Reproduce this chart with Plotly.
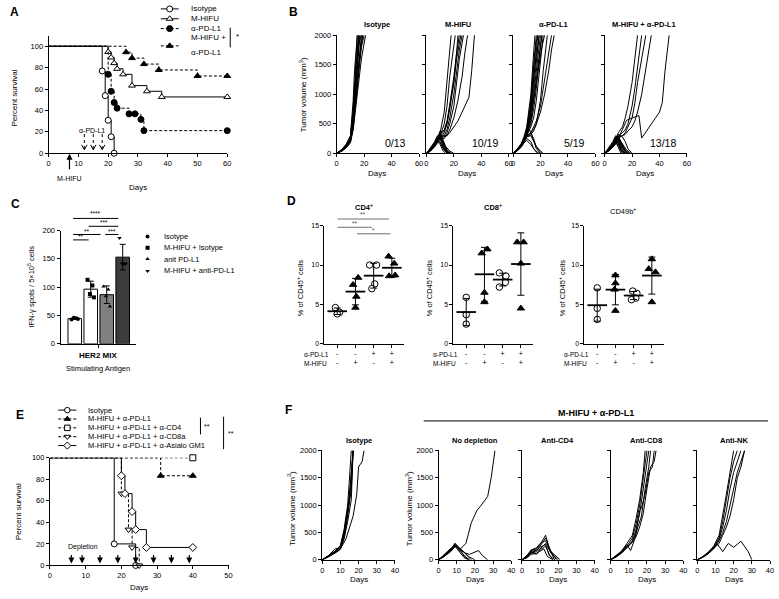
import plotly.graph_objects as go
import numpy as np

W, H = 779, 599
FONT = "Liberation Sans, Arial, sans-serif"

# ===================== DATA =====================
# Panel A: Kaplan-Meier (day of event, % survival)
A_ISO_DAYS = [0, 18, 19, 20, 21, 22]
A_ISO_SURV = [100, 76.9, 53.8, 30.8, 15.4, 0]
A_HIFU_DAYS = [0, 20, 21, 22, 23, 25, 28, 33, 38, 60]
A_HIFU_SURV = [100, 94.7, 89.5, 84.2, 78.9, 73.7, 63.2, 57.9, 52.6, 52.6]
A_PDL1_DAYS = [0, 20, 21, 22, 23, 27, 29, 31, 32, 60]
A_PDL1_SURV = [100, 73.7, 57.9, 47.4, 42.1, 36.8, 36.8, 31.6, 21.1, 21.1]
A_COMBO_DAYS = [0, 26, 28, 32, 37, 50, 60]
A_COMBO_SURV = [100, 94.4, 88.9, 83.3, 77.8, 72.2, 72.2]
A_PDL1_INJ_DAYS = [12, 15, 18]
A_HIFU_DAY = 7
A_XTICKS = [0, 10, 20, 30, 40, 50, 60]
A_YTICKS = [0, 20, 40, 60, 80, 100]

# Panel B: individual tumour growth curves (days, volume mm3)
B_TITLES = ["Isotype", "M-HIFU", "α-PD-L1", "M-HIFU + α-PD-L1"]
B_FRACTIONS = ["0/13", "10/19", "5/19", "13/18"]
B_ISO = [
    ([0, 4, 7, 10, 12, 14, 16], [0, 60, 130, 250, 600, 1300, 2000]),
    ([0, 4, 7, 10, 12, 14, 16, 18], [0, 50, 110, 220, 500, 1000, 1600, 2000]),
    ([0, 4, 7, 10, 12, 14, 15], [0, 70, 150, 290, 750, 1500, 2000]),
    ([0, 4, 7, 10, 12, 14, 16, 17], [0, 55, 120, 230, 550, 1150, 1750, 2000]),
    ([0, 4, 7, 10, 12, 14, 16, 18, 20], [0, 45, 100, 200, 420, 850, 1350, 1800, 2000]),
    ([0, 4, 7, 10, 12, 14, 16], [0, 65, 140, 270, 680, 1400, 2000]),
    ([0, 4, 7, 10, 12, 14, 16, 19], [0, 50, 115, 210, 480, 950, 1500, 2000]),
    ([0, 4, 7, 10, 12, 14, 16, 18], [0, 60, 125, 240, 560, 1300, 1850, 2000]),
    ([0, 4, 7, 10, 12, 13, 15], [0, 75, 160, 300, 900, 1400, 2000]),
    ([0, 4, 7, 10, 12, 14, 16, 17], [0, 55, 120, 230, 640, 1250, 1900, 2000]),
    ([0, 4, 7, 10, 12, 14, 16, 18, 19], [0, 50, 105, 200, 460, 1000, 1450, 1900, 2000]),
    ([0, 4, 7, 10, 12, 14, 16], [0, 60, 135, 250, 700, 1450, 2000]),
    ([0, 4, 7, 10, 12, 14, 16, 18, 21], [0, 40, 95, 180, 400, 800, 1300, 1600, 2000]),
]
B_HIFU = [
    ([0, 3, 6, 8, 10, 13, 15, 17], [0, 60, 150, 250, 300, 150, 50, 0]),
    ([0, 3, 6, 8, 10, 13, 15], [0, 80, 180, 280, 250, 80, 0]),
    ([0, 3, 6, 8, 10, 12, 14, 17, 20], [0, 50, 120, 200, 350, 250, 120, 40, 0]),
    ([0, 3, 6, 8, 10, 13, 16], [0, 70, 160, 230, 200, 60, 0]),
    ([0, 3, 6, 8, 10, 12, 15, 18], [0, 40, 130, 260, 380, 200, 60, 0]),
    ([0, 3, 6, 8, 10, 13, 15], [0, 90, 200, 300, 270, 100, 0]),
    ([0, 3, 6, 8, 10, 13, 17], [0, 60, 140, 220, 180, 50, 0]),
    ([0, 3, 6, 8, 10, 12, 14, 16], [0, 50, 110, 180, 250, 150, 50, 0]),
    ([0, 3, 6, 8, 10, 13, 15, 18], [0, 70, 170, 260, 300, 120, 30, 0]),
    ([0, 3, 6, 8, 10, 12, 14], [0, 80, 150, 200, 150, 50, 0]),
    ([0, 3, 6, 8, 10, 13, 15, 17, 18], [0, 60, 150, 250, 350, 700, 1200, 1700, 2000]),
    ([0, 3, 6, 8, 10, 13, 15, 17, 19, 21], [0, 50, 130, 220, 300, 500, 800, 1300, 1700, 2000]),
    ([0, 3, 6, 8, 10, 13, 15, 17, 20, 22, 24], [0, 40, 120, 200, 250, 350, 500, 800, 1300, 1700, 2000]),
    ([0, 3, 6, 8, 10, 13, 15, 17, 20, 22, 24, 26], [0, 50, 140, 230, 280, 300, 400, 600, 1000, 1400, 1750, 2000]),
    ([0, 3, 6, 8, 10, 13, 15, 17, 20, 22, 24, 27], [0, 60, 150, 240, 260, 250, 350, 500, 800, 1200, 1600, 2000]),
    ([0, 3, 6, 8, 10, 13, 15, 17, 20, 23, 26, 28, 30], [0, 45, 120, 200, 280, 300, 300, 400, 600, 900, 1300, 1700, 2000]),
    ([0, 3, 6, 8, 10, 13, 15, 17, 20, 23, 26, 29, 31, 33, 35], [0, 50, 130, 210, 260, 280, 300, 350, 450, 550, 700, 850, 950, 1400, 2000]),
    ([0, 3, 6, 8, 10, 13, 15, 17, 20, 22, 25], [0, 70, 170, 280, 330, 400, 550, 800, 1200, 1600, 2000]),
    ([0, 3, 6, 8, 10, 13, 15, 17, 20, 22, 23], [0, 55, 140, 220, 300, 380, 500, 750, 1200, 1700, 2000]),
]
B_PDL1 = [
    ([0, 3, 6, 8, 10, 13, 15, 17, 20], [0, 60, 150, 230, 300, 350, 200, 80, 0]),
    ([0, 3, 6, 8, 10, 13, 15, 18], [0, 50, 120, 200, 250, 200, 80, 0]),
    ([0, 3, 6, 8, 10, 12, 15, 17, 21], [0, 70, 160, 260, 320, 400, 250, 100, 0]),
    ([0, 3, 6, 8, 10, 13, 16, 19], [0, 40, 110, 180, 220, 150, 50, 0]),
    ([0, 3, 6, 8, 10, 13, 15, 17, 20, 22], [0, 60, 140, 220, 280, 300, 200, 120, 40, 0]),
    ([0, 3, 6, 8, 10, 13, 15, 17], [0, 60, 150, 250, 400, 900, 1500, 2000]),
    ([0, 3, 6, 8, 10, 13, 15, 17, 18], [0, 50, 130, 220, 350, 750, 1250, 1800, 2000]),
    ([0, 3, 6, 8, 10, 13, 15, 17, 19], [0, 55, 140, 240, 380, 800, 1300, 1700, 2000]),
    ([0, 3, 6, 8, 10, 13, 15, 16], [0, 70, 170, 280, 450, 1000, 1700, 2000]),
    ([0, 3, 6, 8, 10, 13, 15, 17, 19], [0, 45, 120, 200, 320, 700, 1100, 1600, 2000]),
    ([0, 3, 6, 8, 10, 13, 15, 17, 18], [0, 60, 150, 260, 420, 850, 1400, 1900, 2000]),
    ([0, 3, 6, 8, 10, 13, 15, 17, 19, 20], [0, 50, 120, 210, 330, 650, 1000, 1400, 1800, 2000]),
    ([0, 3, 6, 8, 10, 13, 15, 17, 19, 21], [0, 40, 110, 190, 300, 550, 900, 1300, 1700, 2000]),
    ([0, 3, 6, 8, 10, 13, 15, 17, 19, 21], [0, 55, 130, 230, 350, 500, 750, 1100, 1600, 2000]),
    ([0, 3, 6, 8, 10, 13, 15, 17, 20, 22], [0, 45, 115, 200, 300, 450, 600, 900, 1500, 2000]),
    ([0, 3, 6, 8, 10, 13, 15, 17, 20, 22, 25], [0, 50, 120, 200, 280, 350, 400, 500, 900, 1400, 2000]),
    ([0, 3, 6, 8, 10, 13, 15, 17, 20, 22, 24, 26, 28], [0, 60, 140, 230, 300, 350, 450, 550, 800, 1100, 1400, 1700, 2000]),
    ([0, 3, 6, 8, 10, 13, 15, 17, 20, 23, 26, 28, 30], [0, 50, 130, 210, 280, 320, 380, 500, 700, 1000, 1400, 1750, 2000]),
    ([0, 3, 6, 8, 10, 13, 15, 17, 19, 21, 23], [0, 65, 150, 250, 370, 600, 900, 1200, 1500, 1800, 2000]),
]
B_COMBO = [
    ([0, 3, 6, 8, 10, 12, 14], [0, 60, 150, 250, 200, 80, 0]),
    ([0, 3, 6, 8, 10, 13, 15], [0, 80, 180, 280, 220, 60, 0]),
    ([0, 3, 6, 8, 10, 12, 15, 17], [0, 50, 130, 200, 260, 150, 40, 0]),
    ([0, 3, 6, 8, 10, 13], [0, 70, 160, 230, 120, 0]),
    ([0, 3, 6, 8, 10, 12, 14, 16], [0, 40, 120, 180, 300, 180, 60, 0]),
    ([0, 3, 6, 8, 10, 13, 16], [0, 90, 200, 300, 250, 90, 0]),
    ([0, 3, 6, 8, 10, 12], [0, 60, 140, 200, 100, 0]),
    ([0, 3, 6, 8, 10, 12, 14, 17], [0, 50, 110, 170, 230, 200, 80, 0]),
    ([0, 3, 6, 8, 10, 13, 15, 18], [0, 70, 170, 260, 280, 150, 60, 0]),
    ([0, 3, 6, 8, 10, 12, 14], [0, 80, 150, 220, 160, 50, 0]),
    ([0, 3, 6, 8, 10, 13, 15, 17, 20], [0, 60, 150, 240, 320, 280, 200, 80, 0]),
    ([0, 3, 6, 8, 10, 12, 15], [0, 55, 130, 210, 190, 70, 0]),
    ([0, 3, 6, 8, 10, 13, 16, 19], [0, 45, 120, 190, 230, 160, 60, 0]),
    ([0, 3, 6, 8, 10, 13, 15, 17, 20, 22, 24], [0, 60, 150, 250, 350, 450, 600, 800, 1200, 1600, 2000]),
    ([0, 3, 6, 8, 10, 13, 15, 17, 20, 22, 24, 27], [0, 50, 140, 230, 300, 350, 400, 500, 800, 1100, 1500, 2000]),
    ([0, 3, 6, 8, 10, 13, 15, 17, 20, 22, 24, 27, 30], [0, 55, 130, 220, 280, 300, 350, 450, 600, 850, 1200, 1600, 2000]),
    ([0, 3, 6, 8, 10, 13, 15, 17, 20, 22, 24, 27, 29, 31, 34], [0, 50, 120, 200, 260, 300, 320, 380, 450, 550, 700, 1000, 1300, 1600, 2000]),
    ([0, 4, 8, 10, 13, 16, 20, 25, 27, 31, 37, 40, 42, 44, 47], [0, 60, 150, 250, 400, 560, 600, 640, 260, 400, 610, 700, 860, 1400, 2000]),
]
B_XTICKS = [0, 20, 40, 60]
VOL_TICKS = [0, 500, 1000, 1500, 2000]

# Panel C: IFN-gamma ELISpot
C_GROUPS = ["Isotype", "M-HIFU + Isotype", "anit PD-L1", "M-HIFU + anti-PD-L1"]
C_POINTS = [[43, 45, 46, 44], [113, 103, 88, 82], [101, 96, 84, 66], [187, 141, 142, 142]]
C_YTICKS = [0, 50, 100, 150, 200]

# Panel D: flow cytometry (% of CD45+ cells)
D_TITLES = ["<b>CD4<sup>+</sup></b>", "<b>CD8<sup>+</sup></b>", "CD49b<sup>+</sup>"]
D_CD4 = [[4.6, 4.0, 3.8], [8.4, 7.5, 6.0, 4.6], [10.0, 10.0, 7.6, 7.0], [11.1, 10.2, 8.6, 8.7]]
D_CD8 = [[5.9, 3.7, 2.5], [11.5, 12.0, 6.5, 5.3], [9.0, 8.6, 7.8, 7.2], [12.9, 12.9, 10.2, 4.5]]
D_CD49B = [[7.1, 4.5, 3.1], [8.7, 7.7, 6.9, 4.2], [6.7, 6.4, 5.8, 5.6], [10.75, 9.5, 9.1, 5.3]]
D_PDL1_ROW = ["-", "-", "+", "+"]
D_HIFU_ROW = ["-", "+", "-", "+"]
D_YTICKS = [0, 5, 10, 15]

# Panel E: depletion survival
E_ISO_DAYS = [0, 18, 24]
E_ISO_SURV = [100, 20, 0]
E_PDL1_DAYS = [0, 31, 40]
E_PDL1_SURV = [100, 83.3, 83.3]
E_CD4_DAYS = [0, 40]
E_CD4_SURV = [100, 100]
E_CD8_DAYS = [0, 20, 22, 23, 25]
E_CD8_SURV = [100, 66.7, 33.3, 16.7, 0]
E_NK_DAYS = [0, 20, 21, 23, 24, 27, 40]
E_NK_SURV = [100, 83.3, 66.7, 50, 33.3, 16.7, 16.7]
E_DEPLETION_DAYS = [6, 9, 14, 19, 24, 29, 34, 39]
E_XTICKS = [0, 10, 20, 30, 40, 50]
E_YTICKS = [0, 20, 40, 60, 80, 100]

# Panel F: growth curves with depletion
F_TITLES = ["Isotype", "No depletion", "Anti-CD4", "Anti-CD8", "Anti-NK"]
F_ISO = [
    ([0, 3, 7, 10, 12, 14, 15, 17], [0, 60, 150, 250, 500, 900, 1200, 2000]),
    ([0, 3, 7, 10, 12, 14, 15, 17], [0, 55, 140, 230, 450, 850, 1150, 2000]),
    ([0, 3, 7, 10, 12, 14, 16, 17], [0, 50, 130, 200, 400, 800, 1300, 2000]),
    ([0, 3, 7, 10, 12, 14, 16], [0, 65, 160, 260, 550, 1000, 2000]),
    ([0, 3, 7, 10, 12, 14, 16, 17], [0, 45, 120, 190, 380, 700, 1100, 2000]),
    ([0, 3, 7, 10, 12, 14, 16, 17], [0, 60, 200, 220, 500, 950, 1400, 2000]),
    ([0, 3, 7, 10, 13, 15, 17, 19, 20, 22, 23], [0, 50, 140, 200, 380, 600, 800, 1200, 1700, 1800, 2000]),
]
F_NODEP = [
    ([0, 3, 7, 9, 12, 15, 17], [0, 80, 200, 280, 150, 50, 0]),
    ([0, 3, 7, 9, 12, 14, 16], [0, 70, 180, 300, 180, 60, 0]),
    ([0, 3, 7, 9, 12, 15, 18], [0, 60, 170, 260, 200, 100, 0]),
    ([0, 3, 7, 9, 12, 14, 17], [0, 90, 220, 250, 120, 40, 0]),
    ([0, 3, 7, 9, 12, 15, 17, 20], [0, 60, 160, 240, 200, 120, 50, 0]),
    ([0, 3, 7, 9, 12, 15, 17, 20, 22, 24, 27], [0, 70, 190, 270, 180, 120, 100, 150, 170, 80, 0]),
    ([0, 3, 7, 9, 12, 15, 18, 21, 23, 25, 27, 29, 31], [0, 75, 200, 300, 200, 300, 680, 900, 980, 1080, 1160, 1520, 2000]),
]
F_CD4 = [
    ([0, 3, 5, 8, 10, 13, 16, 19], [0, 80, 150, 180, 250, 400, 150, 0]),
    ([0, 3, 5, 8, 10, 13, 15, 18], [0, 60, 170, 200, 280, 450, 200, 0]),
    ([0, 3, 5, 8, 10, 13, 16, 20], [0, 50, 120, 150, 200, 300, 120, 0]),
    ([0, 3, 5, 8, 10, 13, 15, 17], [0, 70, 140, 100, 180, 250, 100, 0]),
    ([0, 3, 5, 8, 10, 13, 16, 21], [0, 90, 180, 220, 300, 350, 150, 0]),
    ([0, 3, 5, 8, 10, 13, 15, 18], [0, 60, 130, 170, 230, 280, 80, 0]),
    ([0, 3, 5, 8, 10, 12, 14, 17], [0, 40, 100, 120, 160, 200, 60, 0]),
]
F_CD8 = [
    ([0, 3, 6, 9, 12, 14, 16, 18, 20], [0, 70, 150, 250, 400, 650, 1000, 1500, 2000]),
    ([0, 3, 6, 9, 12, 14, 16, 18, 20, 21], [0, 60, 130, 220, 350, 550, 850, 1300, 1800, 2000]),
    ([0, 3, 6, 9, 12, 14, 16, 18, 19], [0, 80, 160, 300, 450, 750, 1100, 1600, 2000]),
    ([0, 3, 6, 9, 11, 13, 15, 17, 19, 21, 22], [0, 60, 140, 280, 170, 350, 600, 800, 1300, 1700, 2000]),
    ([0, 3, 6, 9, 12, 14, 16, 17, 19, 21, 23, 24], [0, 50, 120, 230, 330, 500, 900, 950, 1200, 1600, 1700, 2000]),
    ([0, 3, 6, 9, 12, 14, 16, 18, 20, 22, 24, 25], [0, 55, 130, 240, 320, 420, 600, 850, 1300, 1700, 1800, 2000]),
]
F_NK = [
    ([0, 3, 6, 9, 12, 14, 16, 18, 20], [0, 60, 140, 250, 450, 800, 1200, 1600, 2000]),
    ([0, 3, 6, 9, 12, 14, 16, 18, 20, 22], [0, 55, 130, 230, 400, 700, 1100, 1500, 1800, 2000]),
    ([0, 3, 6, 9, 12, 14, 16, 18, 20, 22, 24], [0, 50, 120, 220, 380, 600, 900, 1300, 1600, 1800, 2000]),
    ([0, 3, 6, 9, 12, 14, 16, 18, 20, 22, 24, 26], [0, 45, 110, 200, 350, 500, 700, 1000, 1300, 1600, 1800, 2000]),
    ([0, 3, 6, 9, 12, 14, 16, 18, 20, 22, 24, 26], [0, 50, 120, 210, 300, 450, 600, 800, 1100, 1500, 1700, 2000]),
    ([0, 3, 6, 9, 11, 14, 17, 20, 24, 28, 30], [0, 50, 120, 230, 290, 150, 300, 230, 340, 150, 0]),
]
F_XTICKS = [0, 10, 20, 30, 40]

# ===================== HELPERS =====================
fig = go.Figure()
layout = {}
annotations = []
shapes = []


def refs(n):
    return ("x" if n == 1 else f"x{n}"), ("y" if n == 1 else f"y{n}")


def keys(n):
    return ("xaxis" if n == 1 else f"xaxis{n}"), ("yaxis" if n == 1 else f"yaxis{n}")


def make_axes(n, xpx, ypx, xrange, yrange, xtickvals, ytickvals, xticktext=None,
              show_x=True, show_y=True, tsize=7.5):
    xr, yr = refs(n)
    xk, yk = keys(n)
    common = dict(showline=True, linecolor="black", linewidth=1, ticks="outside", ticklen=3,
                  tickwidth=1, tickcolor="black", showgrid=False, zeroline=False, fixedrange=True,
                  tickfont=dict(size=tsize, family=FONT, color="black"))
    layout[xk] = dict(domain=[xpx[0] / W, xpx[1] / W], range=xrange, anchor=yr,
                      tickvals=xtickvals, showticklabels=show_x, **common)
    if xticktext is not None:
        layout[xk]["ticktext"] = xticktext
    layout[yk] = dict(domain=[1 - ypx[0] / H, 1 - ypx[1] / H], range=yrange, anchor=xr,
                      tickvals=ytickvals, showticklabels=show_y, **common)


def text(x, y, s, size=8, anchor="center", angle=0, color="black"):
    annotations.append(dict(x=x / W, y=1 - y / H, xref="paper", yref="paper", text=s,
                            showarrow=False, font=dict(size=size, family=FONT, color=color),
                            xanchor=anchor, yanchor="middle", textangle=angle))


def seg(x0, y0, x1, y1, color="black", width=1, dash="solid"):
    shapes.append(dict(type="line", xref="paper", yref="paper", x0=x0 / W, y0=1 - y0 / H,
                       x1=x1 / W, y1=1 - y1 / H, line=dict(color=color, width=width, dash=dash)))


def lines_trace(n, x, y, dash="solid", width=1, shape="linear"):
    xr, yr = refs(n)
    fig.add_trace(go.Scatter(x=x, y=y, mode="lines", xaxis=xr, yaxis=yr, showlegend=False,
                             hoverinfo="skip", cliponaxis=False,
                             line=dict(color="black", width=width, dash=dash, shape=shape)))


def markers_trace(n, x, y, symbol, fill, size=6, lw=1):
    xr, yr = refs(n)
    fig.add_trace(go.Scatter(x=x, y=y, mode="markers", xaxis=xr, yaxis=yr, showlegend=False,
                             hoverinfo="skip", cliponaxis=False,
                             marker=dict(symbol=symbol, size=size, color=fill,
                                         line=dict(color="black", width=lw))))


def km(n, days, surv, dash, symbol, fill, size=6):
    lines_trace(n, days, surv, dash=dash, shape="hv")
    markers_trace(n, days[1:], surv[1:], symbol, fill, size)


CANVAS = 16
DASH = "3px,2px"


def legend_sample(x0, x1, y, dash, symbol, fill, size=6):
    lines_trace(CANVAS, [x0, x1], [y, y], dash=dash)
    markers_trace(CANVAS, [(x0 + x1) / 2], [y], symbol, fill, size)


def arrow(xref, xval, y_head, dy):
    annotations.append(dict(x=xval, y=1 - y_head / H, xref=xref, yref="paper", ax=0, ay=dy,
                            axref="pixel", ayref="pixel", text=" ", showarrow=True, arrowhead=2,
                            arrowsize=1, arrowwidth=1.2, arrowcolor="black",
                            font=dict(size=6, family=FONT)))


# ===================== PANEL A =====================
make_axes(1, (47, 227), (151.5, 32), [0, 60], [0, 110], A_XTICKS, A_YTICKS)
km(1, A_ISO_DAYS, A_ISO_SURV, "solid", "circle", "white")
km(1, A_HIFU_DAYS, A_HIFU_SURV, "solid", "triangle-up", "white")
km(1, A_PDL1_DAYS, A_PDL1_SURV, DASH, "circle", "black")
km(1, A_COMBO_DAYS, A_COMBO_SURV, DASH, "triangle-up", "black")
text(6, 8, "<b>A</b>", size=12, anchor="left")
text(13, 95, "Percent survival", size=8, angle=-90)
text(137, 186, "Days", size=8)
arrow("x", A_HIFU_DAY, 152, 20)
text(68, 177, "M-HIFU", size=7)
text(91, 128, "α-PD-L1", size=7)
for d in A_PDL1_INJ_DAYS:
    shapes.append(dict(type="line", xref="x", yref="paper", x0=d, x1=d, y0=1 - 132 / H,
                       y1=1 - 147.5 / H, line=dict(color="black", width=1, dash="dot")))
    shapes.append(dict(type="path", xref="x", yref="paper",
                       path=f"M {d - 0.9},{1 - 143 / H} L {d},{1 - 148 / H} L {d + 0.9},{1 - 143 / H}",
                       line=dict(color="black", width=1)))
# legend A
legend_sample(160, 178, 5, "solid", "circle", "white")
legend_sample(160, 178, 15, "solid", "triangle-up", "white")
legend_sample(160, 178, 25, DASH, "circle", "black")
legend_sample(160, 178, 42.5, DASH, "triangle-up", "black")
text(188, 5, "Isotype", anchor="left")
text(188, 15, "M-HIFU", anchor="left")
text(188, 25, "α-PD-L1", anchor="left")
text(188, 34, "M-HIFU +", anchor="left")
text(188, 49, "α-PD-L1", anchor="left")
seg(230, 24, 230, 44)
text(237, 33, "*", size=8)

# ===================== PANEL B =====================
B_X = [337.3, 427.7, 515, 607.3]
B_W = 83
B_TITLE_X = [377.5, 460, 555.7, 647.3]
B_FRAC_X = [396.7, 486.3, 577.3, 666.2]
for i, group in enumerate([B_ISO, B_HIFU, B_PDL1, B_COMBO]):
    n = 2 + i
    make_axes(n, (B_X[i], B_X[i] + B_W), (151.7, 31.7), [0, 60], [0, 2000], B_XTICKS, VOL_TICKS,
              show_y=(i == 0))
    for days, vols in group:
        lines_trace(n, days, vols, width=1)
    text(B_TITLE_X[i], 21, "<b>" + B_TITLES[i] + "</b>", size=7.5)
    text(B_FRAC_X[i], 141, B_FRACTIONS[i], size=10.5)
    text(B_X[i] + 41, 172, "Days", size=8)
text(287, 8, "<b>B</b>", size=12, anchor="left")
text(303, 92, "Tumor volume (mm<sup>3</sup>)", size=8, angle=-90)

# ===================== PANEL C =====================
make_axes(6, (59, 135), (345, 230), [0.11, 4.83], [0, 200], [2.5], C_YTICKS, show_x=False)
C_FILL = ["white", "white", "#808080", "#3c3c3c"]
C_SYM = ["circle", "square", "triangle-up", "triangle-down"]
C_JIT = [-0.2, 0.1, -0.05, 0.2]
c_means = [float(np.mean(p)) for p in C_POINTS]
c_sds = [float(np.std(p, ddof=1)) for p in C_POINTS]
fig.add_trace(go.Bar(x=[1, 2, 3, 4], y=c_means, width=0.85, xaxis="x6", yaxis="y6",
                     marker=dict(color=C_FILL, line=dict(color="black", width=1)),
                     error_y=dict(type="data", array=c_sds, visible=True, thickness=1, width=3,
                                  color="black"),
                     showlegend=False, hoverinfo="skip"))
for i, pts in enumerate(C_POINTS):
    markers_trace(6, [i + 1 + C_JIT[k % 4] for k in range(len(pts))], pts, C_SYM[i], "black", size=4, lw=0)
text(7, 203, "<b>C</b>", size=12, anchor="left")
text(29, 287, "IFN-γ spots / 5×10<sup>5</sup> cells", size=7.5, angle=-90)
text(97, 357, "<b>HER2 MIX</b>", size=8)
text(97, 370, "Stimulating Antigen", size=7.5, color="#000000")
# significance
for (x0, x1, y, lab, ty) in [(71.7, 117.3, 217.7, "****", 213),
                             (87.3, 117.3, 225.7, "***", 221.5),
                             (71.7, 99.3, 234, "**", 230.5),
                             (104, 117.3, 234, "***", 230.5),
                             (71.7, 87.3, 239.5, "**", 236.5)]:
    seg(x0, y, x1, y)
    text((x0 + x1) / 2, ty, lab, size=6.5)
# legend C
for k, (lab, sym) in enumerate(zip(C_GROUPS, C_SYM)):
    yy = [236, 247.5, 259, 271][k]
    markers_trace(CANVAS, [146.7], [yy], sym, "black", size=4, lw=0)
    text(161.5, yy, lab, size=7.5, anchor="left")

# ===================== PANEL D =====================
D_X = [325, 455, 587]
D_TITLE_POS = [(365, 206), (495, 206), (626, 210)]
D_JIT = [
    [[-0.1, 0.13, 0.0], [0.15, -0.13, 0.05, 0.0], [-0.22, 0.16, 0.06, -0.1], [-0.18, 0.13, -0.15, 0.18]],
    [[0.0, 0.0, 0.0], [-0.15, 0.16, 0.0, 0.0], [-0.18, 0.18, 0.15, -0.18], [-0.2, 0.15, 0.0, 0.0]],
    [[0.0, 0.0, 0.0], [0.0, 0.0, -0.05, 0.0], [-0.05, 0.18, 0.12, -0.12], [0.0, -0.17, 0.2, 0.0]],
]
D_SYM = [("circle", "white"), ("triangle-up", "black"), ("circle", "white"), ("triangle-up", "black")]
tick_txt = [a + "<br>" + b for a, b in zip(D_PDL1_ROW, D_HIFU_ROW)]
for j, data in enumerate([D_CD4, D_CD8, D_CD49B]):
    n = 7 + j
    make_axes(n, (D_X[j], D_X[j] + 80), (345, 225), [-0.7, 3.66], [0, 15], [0, 1, 2, 3], D_YTICKS,
              xticktext=tick_txt, tsize=7)
    for g, pts in enumerate(data):
        sym, fill = D_SYM[g]
        markers_trace(n, [g + d for d in D_JIT[j][g]], pts, sym, fill, size=6.5)
        m = float(np.mean(pts))
        sd = float(np.std(pts, ddof=1))
        xr, yr = refs(n)
        fig.add_trace(go.Scatter(x=[g], y=[m], mode="markers", xaxis=xr, yaxis=yr,
                                 showlegend=False, hoverinfo="skip", cliponaxis=False,
                                 marker=dict(symbol="line-ew", size=14, color="black",
                                             line=dict(color="black", width=1.8)),
                                 error_y=dict(type="data", array=[sd], visible=True,
                                              thickness=1, width=3.5, color="black")))
    text(D_TITLE_POS[j][0], D_TITLE_POS[j][1], D_TITLES[j], size=7.5)
    text(D_X[j] - 23, 356, "α-PD-L1", size=6.5, anchor="left")
    text(D_X[j] - 23, 365, "M-HIFU", size=6.5, anchor="left")
text(285, 200, "<b>D</b>", size=12, anchor="left")
for xx in [300, 430, 564]:
    text(xx, 288, "% of CD45<sup>+</sup> cells", size=7.5, angle=-90)
for (x0, x1, y, lab, ty) in [(338, 390, 218.3, "**", 214),
                             (338, 372.7, 226.7, "**", 222.5),
                             (357.7, 391.7, 233.3, "*", 229.5)]:
    seg(x0, y, x1, y, color="#707070")
    text((x0 + x1) / 2, ty, lab, size=6.5, color="#505050")

# ===================== PANEL E =====================
make_axes(10, (48.3, 228.3), (570, 460.7), [0, 50], [0, 100], E_XTICKS, E_YTICKS)
km(10, E_ISO_DAYS, E_ISO_SURV, "solid", "circle", "white")
km(10, E_PDL1_DAYS, E_PDL1_SURV, DASH, "triangle-up", "black")
km(10, E_CD4_DAYS, E_CD4_SURV, DASH, "square", "white")
km(10, E_CD8_DAYS, E_CD8_SURV, DASH, "triangle-down", "white")
km(10, E_NK_DAYS, E_NK_SURV, "solid", "diamond", "white")
for d in E_DEPLETION_DAYS:
    arrow("x10", d, 568, -13)
text(82, 551.5, "Depletion", size=7)
text(12, 417, "<b>E</b>", size=12, anchor="left")
text(16, 515, "Percent survival", size=8, angle=-90)
text(138, 592.5, "Days", size=8)
E_LEG = [("Isotype", "solid", "circle", "white"),
         ("M-HIFU + α-PD-L1", DASH, "triangle-up", "black"),
         ("M-HIFU + α-PD-L1 + α-CD4", DASH, "square", "white"),
         ("M-HIFU + α-PD-L1 + α-CD8a", DASH, "triangle-down", "white"),
         ("M-HIFU + α-PD-L1 + α-Asialo GM1", "solid", "diamond", "white")]
for k, (lab, dsh, sym, fill) in enumerate(E_LEG):
    yy = 412.3 + k * 9
    legend_sample(56.7, 75, yy, dsh, sym, fill, size=5.5)
    text(85, yy, lab, size=7.5, anchor="left")
seg(200, 420, 200, 437)
text(207, 428.5, "**", size=7)
seg(223.3, 419, 223.3, 452)
text(231, 436, "**", size=7)

# ===================== PANEL F =====================
F_X = [322.7, 440, 524, 613.3, 700.7]
F_TITLE_X = [359.3, 476.7, 559.7, 649, 737.3]
for i, group in enumerate([F_ISO, F_NODEP, F_CD4, F_CD8, F_NK]):
    n = 11 + i
    make_axes(n, (F_X[i], F_X[i] + 73.3), (564.3, 453.3), [0, 40], [0, 2000], F_XTICKS, VOL_TICKS,
              show_y=(i < 2))
    for days, vols in group:
        lines_trace(n, days, vols, width=1)
    text(F_TITLE_X[i], 443.3, "<b>" + F_TITLES[i] + "</b>", size=7.5)
    text(F_X[i] + 36.7, 584.5, "Days", size=8)
text(283, 412, "<b>F</b>", size=12, anchor="left")
text(292, 512, "Tumor volume (mm<sup>3</sup>)", size=8, angle=-90)
text(410, 512, "Tumor volume (mm<sup>3</sup>)", size=8, angle=-90)
text(599, 415, "<b>M-HIFU + α-PD-L1</b>", size=9)
seg(425, 423.3, 772, 423.3)

# ===================== CANVAS AXIS =====================
layout["xaxis16"] = dict(domain=[0, 1], range=[0, W], visible=False, fixedrange=True, anchor="y16")
layout["yaxis16"] = dict(domain=[0, 1], range=[H, 0], visible=False, fixedrange=True, anchor="x16")

fig.update_layout(**layout)
fig.update_layout(width=W, height=H, margin=dict(l=0, r=0, t=0, b=0),
                  paper_bgcolor="white", plot_bgcolor="rgba(0,0,0,0)",
                  showlegend=False, annotations=annotations, shapes=shapes,
                  font=dict(family=FONT, color="black"))
fig.write_html("out.html", config={"displayModeBar": False},
               post_script="document.body.style.margin='0';document.body.style.overflow='hidden';")
